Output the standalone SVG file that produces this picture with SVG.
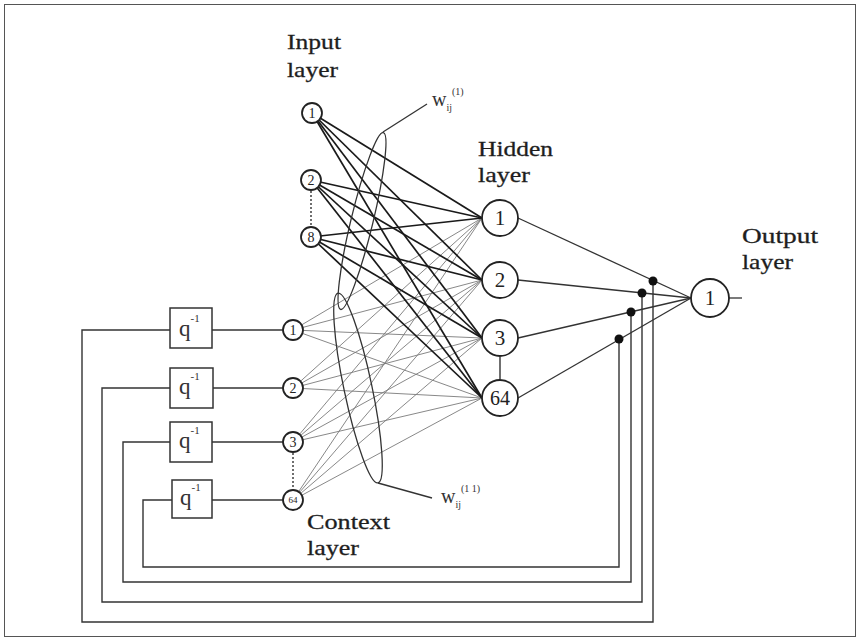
<svg xmlns="http://www.w3.org/2000/svg" width="861" height="642" viewBox="0 0 861 642">
<style>
.bg{fill:#fff}
.frame{fill:none;stroke:#555;stroke-width:1}
.thick{stroke:#1a1a1a;stroke-width:1.7;fill:none}
.thin{stroke:#7a7a7a;stroke-width:0.9;fill:none}
.wire{stroke:#333;stroke-width:1.4;fill:none}
.ell{stroke:#333;stroke-width:1.3;fill:none}
.dot{stroke:#333;stroke-width:1.4;stroke-dasharray:2 2}
.node{fill:#fff;stroke:#222;stroke-width:1.8}
.box{fill:#fff;stroke:#333;stroke-width:1.5}
.lbl{font-family:"Liberation Serif",serif;font-size:22px;fill:#1e1e1e;stroke:#1e1e1e;stroke-width:0.3}
.num{font-family:"Liberation Serif",serif;fill:#222;text-anchor:middle}
.w{font-family:"Liberation Serif",serif;fill:#333}
</style>
<rect class="bg" x="0" y="0" width="861" height="642"/>
<rect class="frame" x="4.5" y="4.5" width="851" height="632"/>

<g id="connectors">
  <g class="thin">
    <line x1="293" y1="330" x2="482" y2="218"/><line x1="293" y1="330" x2="482" y2="280"/><line x1="293" y1="330" x2="482" y2="338"/><line x1="293" y1="330" x2="482" y2="398"/>
    <line x1="293" y1="388" x2="482" y2="218"/><line x1="293" y1="388" x2="482" y2="280"/><line x1="293" y1="388" x2="482" y2="338"/><line x1="293" y1="388" x2="482" y2="398"/>
    <line x1="293" y1="442" x2="482" y2="218"/><line x1="293" y1="442" x2="482" y2="280"/><line x1="293" y1="442" x2="482" y2="338"/><line x1="293" y1="442" x2="482" y2="398"/>
    <line x1="293" y1="500" x2="482" y2="218"/><line x1="293" y1="500" x2="482" y2="280"/><line x1="293" y1="500" x2="482" y2="338"/><line x1="293" y1="500" x2="482" y2="398"/>
  </g>
  <g class="thick">
    <line x1="312" y1="113" x2="482" y2="218"/><line x1="312" y1="113" x2="482" y2="280"/><line x1="312" y1="113" x2="482" y2="338"/><line x1="312" y1="113" x2="482" y2="398"/>
    <line x1="311" y1="180" x2="482" y2="218"/><line x1="311" y1="180" x2="482" y2="280"/><line x1="311" y1="180" x2="482" y2="338"/><line x1="311" y1="180" x2="482" y2="398"/>
    <line x1="311" y1="237" x2="482" y2="218"/><line x1="311" y1="237" x2="482" y2="280"/><line x1="311" y1="237" x2="482" y2="338"/><line x1="311" y1="237" x2="482" y2="398"/>
  </g>
  <ellipse class="ell" cx="362" cy="221" rx="11" ry="91" transform="rotate(13.6 362 221)"/>
  <ellipse class="ell" cx="358" cy="388" rx="14" ry="97" transform="rotate(-11.9 358 388)"/>
  <line class="ell" x1="383" y1="132" x2="427" y2="104"/>
  <line class="ell" x1="378" y1="483" x2="432" y2="498"/>
  <g class="wire" style="stroke-width:1.3">
    <line x1="518" y1="218" x2="691" y2="298"/>
    <line x1="518" y1="280" x2="691" y2="298"/>
    <line x1="518" y1="338" x2="691" y2="298"/>
    <line x1="518" y1="398" x2="691" y2="298"/>
    <line x1="729" y1="298" x2="742" y2="298"/>
  </g>
  <line class="dot" x1="311" y1="191" x2="311" y2="226"/>
  <line class="dot" x1="293" y1="453" x2="293" y2="489"/>
  <line class="wire" x1="500" y1="357" x2="500" y2="379"/>
  <path class="wire" d="M170 330 H82 V622 H653 V281"/>
  <path class="wire" d="M170 388 H102 V602 H642 V293"/>
  <path class="wire" d="M170 442 H123 V582 H631 V312"/>
  <path class="wire" d="M172 500 H143 V567 H619 V339"/>
  <g class="wire">
    <line x1="212" y1="330" x2="283" y2="330"/>
    <line x1="213" y1="388" x2="283" y2="388"/>
    <line x1="212" y1="442" x2="283" y2="442"/>
    <line x1="212" y1="500" x2="283" y2="500"/>
  </g>
  <g fill="#111">
    <circle cx="653" cy="281" r="4.5"/>
    <circle cx="642" cy="293" r="4.5"/>
    <circle cx="631" cy="312" r="4.5"/>
    <circle cx="619" cy="339" r="4.5"/>
  </g>
</g>

<g id="input-1"><circle class="node" cx="312" cy="113" r="10"/><text class="num" x="312" y="118" font-size="14">1</text></g>
<g id="input-2"><circle class="node" cx="311" cy="180" r="10"/><text class="num" x="311" y="185" font-size="14">2</text></g>
<g id="input-8"><circle class="node" cx="311" cy="237" r="10"/><text class="num" x="311" y="242" font-size="14">8</text></g>

<g id="hidden-1"><circle class="node" cx="500" cy="218" r="18"/><text class="num" x="500" y="225" font-size="21">1</text></g>
<g id="hidden-2"><circle class="node" cx="500" cy="280" r="18"/><text class="num" x="500" y="287" font-size="21">2</text></g>
<g id="hidden-3"><circle class="node" cx="500" cy="338" r="18"/><text class="num" x="500" y="345" font-size="21">3</text></g>
<g id="hidden-64"><circle class="node" cx="500" cy="398" r="18"/><text class="num" x="500" y="405" font-size="20">64</text></g>

<g id="output-1"><circle class="node" cx="710" cy="298" r="19"/><text class="num" x="710" y="305" font-size="21">1</text></g>

<g id="context-1"><circle class="node" cx="293" cy="330" r="10"/><text class="num" x="293" y="335" font-size="14">1</text></g>
<g id="context-2"><circle class="node" cx="293" cy="388" r="10"/><text class="num" x="293" y="393" font-size="14">2</text></g>
<g id="context-3"><circle class="node" cx="293" cy="442" r="10"/><text class="num" x="293" y="447" font-size="14">3</text></g>
<g id="context-64"><circle class="node" cx="293" cy="500" r="10"/><text class="num" x="293" y="503" font-size="9">64</text></g>

<g id="delay-1"><rect class="box" x="170" y="308" width="42" height="40"/><text class="w" x="179" y="336" font-size="23">q<tspan font-size="11" dy="-14">-1</tspan></text></g>
<g id="delay-2"><rect class="box" x="170" y="368" width="43" height="40"/><text class="w" x="179" y="394" font-size="23">q<tspan font-size="11" dy="-14">-1</tspan></text></g>
<g id="delay-3"><rect class="box" x="170" y="422" width="42" height="40"/><text class="w" x="179" y="448" font-size="23">q<tspan font-size="11" dy="-14">-1</tspan></text></g>
<g id="delay-4"><rect class="box" x="172" y="480" width="40" height="38"/><text class="w" x="180" y="505" font-size="23">q<tspan font-size="11" dy="-14">-1</tspan></text></g>

<g id="labels">
  <text class="lbl" x="287" y="49" textLength="54" lengthAdjust="spacingAndGlyphs">Input</text>
  <text class="lbl" x="287" y="77" textLength="51" lengthAdjust="spacingAndGlyphs">layer</text>
  <text class="lbl" x="478" y="156" textLength="75" lengthAdjust="spacingAndGlyphs">Hidden</text>
  <text class="lbl" x="478" y="182" textLength="52" lengthAdjust="spacingAndGlyphs">layer</text>
  <text class="lbl" x="742" y="243" textLength="76" lengthAdjust="spacingAndGlyphs">Output</text>
  <text class="lbl" x="742" y="269" textLength="51" lengthAdjust="spacingAndGlyphs">layer</text>
  <text class="lbl" x="307" y="529" textLength="83" lengthAdjust="spacingAndGlyphs">Context</text>
  <text class="lbl" x="307" y="555" textLength="52" lengthAdjust="spacingAndGlyphs">layer</text>
  <text class="w" x="432" y="106" font-size="20">w<tspan font-size="10" dy="5">ij</tspan><tspan font-size="10" dy="-16">(1)</tspan></text>
  <text class="w" x="441" y="503" font-size="20">w<tspan font-size="10" dy="5">ij</tspan><tspan font-size="10" dy="-16">(1 1)</tspan></text>
</g>
</svg>
